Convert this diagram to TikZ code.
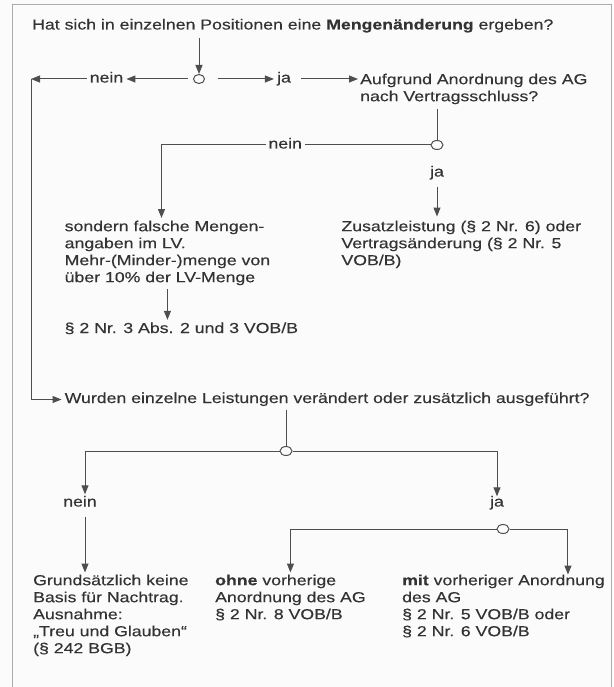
\documentclass[tikz,border=0pt]{standalone}
\usepackage{fontspec}
\setmainfont[FakeStretch=1.22,UprightFeatures={FakeBold=0.3},BoldFeatures={FakeBold=0.3}]{Liberation Sans}
\usetikzlibrary{arrows.meta,shapes.geometric}
\definecolor{ink}{HTML}{333333}
\definecolor{linegray}{HTML}{4E4E4E}
\definecolor{framegray}{HTML}{ABABAB}
\definecolor{paper}{HTML}{FBFBFB}

\begin{document}
\begin{tikzpicture}[x=1pt,y=-1pt,
 every node/.style ={font=\fontsize{14.5}{17}\selectfont,text=ink},
 word/.style ={inner xsep=3pt,inner ysep=0pt,text height=7pt,text depth=0pt},
 block/.style ={anchor=north west,inner sep=0pt,align=left},
 branch/.style ={ellipse,draw=linegray,fill=paper,line width=1pt,minimum width=12pt,minimum height=9pt,inner sep=0pt},
 flow/.style ={-{Triangle[length=9pt,width=7pt]},draw=linegray,line width=1pt},
 link/.style ={-,draw=linegray,line width=1pt}
 ]
%paper and frame
\fill[paper] (0,0) rectangle (613,687);
\useasboundingbox (0,0) rectangle (613,687);
\draw[framegray,line width=1pt] (12.5,687) |- (611.5,4.5) -- (611.5,687);
%first question
\node[word,anchor=base west,inner xsep=0pt] (quantity) at (32,29.5) {Hat sich in einzelnen Positionen eine \textbf{Mengenänderung} ergeben?};
\node[branch,minimum width=11pt] (split1) at (199,79) {};
\node[word] (no1) at (106.5,79) {nein};
\node[word] (yes1) at (284,79) {ja};
\node[block] (order) at (360,73.5) {Aufgrund Anordnung des AG\\nach Vertragsschluss?};
\coordinate (bend1) at (31,79);
%second question
\node[branch] (split2) at (437,145) {};
\node[word] (yes2) at (437,173) {ja};
\node[block] (wrong) at (64.5,220.5) {sondern falsche Mengen-\\angaben im LV.\\Mehr-(Minder-)menge von\\über 10\% der LV-Menge};
\node[block] (extra) at (341.3,220.5) {Zusatzleistung (§ 2 Nr. 6) oder\\Vertragsänderung (§ 2 Nr. 5\\VOB/B)};
\node[word,anchor=west,inner xsep=0pt] (rule3) at (64.5,329.5) {§ 2 Nr. 3 Abs. 2 und 3 VOB/B};
\coordinate (bend2) at (161.5,218);
%third question
\node[word,anchor=west] (changed) at (61.5,399.5) {Wurden einzelne Leistungen verändert oder zusätzlich ausgeführt?};
\node[branch] (split3) at (286,451) {};
\node[word] (no3) at (80,503) {nein};
\node[word] (yes3) at (497,503) {ja};
\node[branch] (split4) at (503,529) {};
\node[block] (basis) at (33,574.5) {Grundsätzlich keine\\Basis für Nachtrag.\\Ausnahme:\\„Treu und Glauben“\\(§ 242 BGB)};
\node[block] (without) at (215,574.5) {\textbf{ohne} vorherige\\Anordnung des AG\\§ 2 Nr. 8 VOB/B};
\node[block] (with) at (402,574.5) {\textbf{mit} vorheriger Anordnung\\des AG\\§ 2 Nr. 5 VOB/B oder\\§ 2 Nr. 6 VOB/B};
%connectors of the first question
\draw[flow,shorten <=8pt] (quantity.south -| split1) -- (split1.north);
\draw[flow,shorten <=5pt] (split1.west) -- (no1.east);
\draw[flow] (no1.west) -- (bend1);
\draw[flow] (bend1) |- (changed.west);
\draw[flow,shorten <=13pt] (split1.east) -- (yes1.west);
\draw[flow,shorten <=7pt,shorten >=2pt] (yes1.east) -- (order.north west |- yes1.east);
%connectors of the second question
\draw[link,shorten <=5pt] (order.south -| split2) -- (split2.north);
\draw[flow] (split2.west) -| node[word,fill=paper,pos=0.27] (no2) {nein} (bend2);
\draw[flow,shorten <=10pt,shorten >=4pt] (yes2.south) -- (yes2.south |- extra.north);
\draw[flow,shorten <=4pt,shorten >=6pt] (wrong.south) -- (wrong.south |- rule3.north);
%connectors of the third question
\draw[link,shorten <=7pt] (changed.south -| split3) -- (split3.north);
\draw[flow,shorten >=5pt] (split3.west) -| ([xshift=5pt]no3.north);
\draw[flow,shorten >=3pt] (split3.east) -| (yes3.north);
\draw[flow,shorten <=10pt,shorten >=2pt] ([xshift=5pt]no3.south) -- ([xshift=5pt]no3.south |- basis.north);
\draw[flow,shorten >=2pt] (split4.west) -| (without.north);
\draw[flow] (split4.east) -| ([xshift=-37pt]with.north east);
\end{tikzpicture}
\end{document}
